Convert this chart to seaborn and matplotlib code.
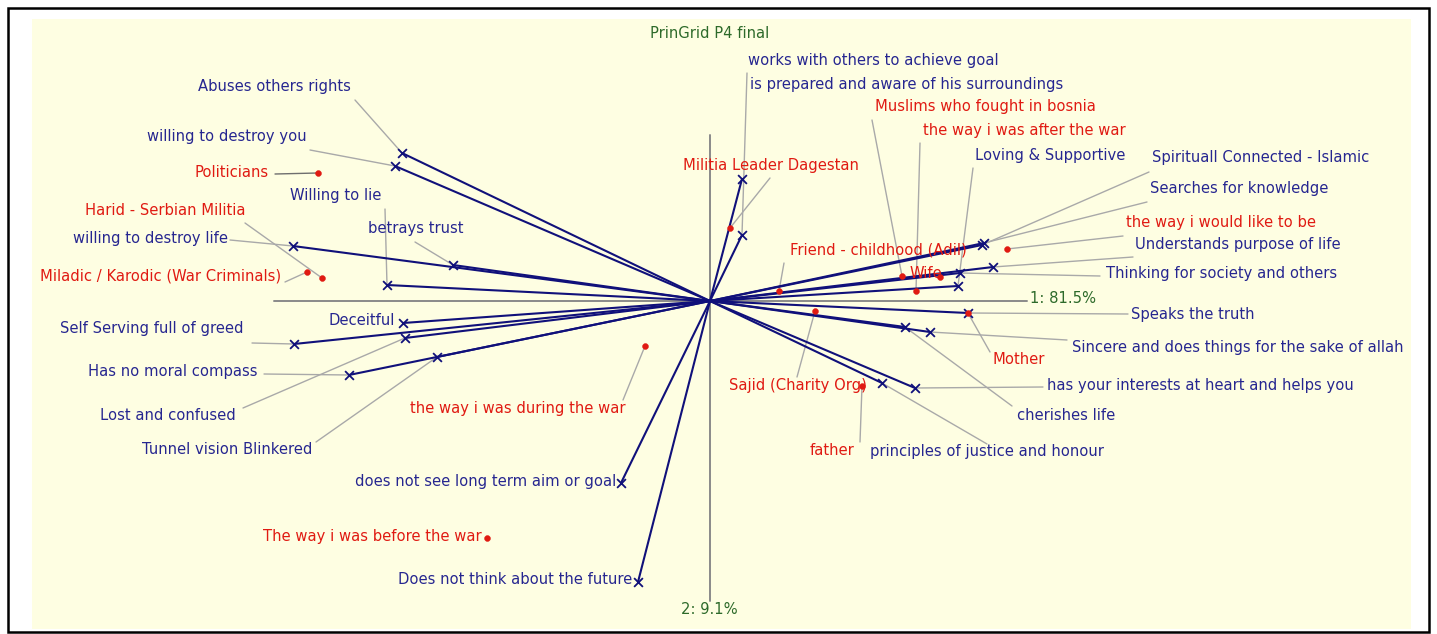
import matplotlib
matplotlib.use("Agg")
import matplotlib.pyplot as plt
import seaborn as sns
import pandas as pd
from matplotlib.patches import Rectangle

sns.set_style("white")
plt.rcParams['font.family'] = ['DejaVu Sans']

# construct poles (component 1, component 2)
constructs = ["Abuses others rights", "willing to destroy you", "willing to destroy life",
              "betrays trust", "Willing to lie", "Deceitful", "Self Serving full of greed",
              "Lost and confused", "Has no moral compass", "Tunnel vision Blinkered",
              "does not see long term aim or goal", "Does not think about the future",
              "is prepared and aware of his surroundings", "works with others to achieve goal",
              "Spirituall Connected - Islamic", "Searches for knowledge",
              "Understands purpose of life", "Thinking for society and others",
              "Loving & Supportive", "Speaks the truth",
              "Sincere and does things for the sake of allah", "cherishes life",
              "has your interests at heart and helps you", "principles of justice and honour"]
con_c1 = [-3.08, -3.15, -4.17, -2.57, -3.23, -3.07, -4.16, -3.05, -3.61, -2.73, -0.89, -0.72,
          0.32, 0.32, 2.72, 2.74, 2.83, 2.50, 2.48, 2.58, 2.20, 1.95, 2.05, 1.72]
con_c2 = [1.48, 1.35, 0.55, 0.36, 0.16, -0.22, -0.43, -0.37, -0.74, -0.56, -1.82, -2.81,
          1.22, 0.66, 0.56, 0.58, 0.34, 0.28, 0.15, -0.12, -0.31, -0.26, -0.87, -0.82]

# elements
elements = ["Politicians", "Harid - Serbian Militia", "Miladic / Karodic (War Criminals)",
            "Militia Leader Dagestan", "Friend - childhood (Adil)", "Muslims who fought in bosnia",
            "the way i was after the war", "Wife", "the way i would like to be", "Mother",
            "Sajid (Charity Org)", "father", "the way i was during the war",
            "The way i was before the war"]
elem_c1 = [-3.92, -3.88, -4.03, 0.20, 0.69, 1.92, 2.06, 2.30, 2.97, 2.58, 1.05, 1.52, -0.65, -2.23]
elem_c2 = [1.28, 0.23, 0.29, 0.73, 0.10, 0.25, 0.10, 0.24, 0.52, -0.12, -0.10, -0.85, -0.45, -2.37]

var_pct = [81.5, 9.1]
title = "PrinGrid P4 final"

# label placement (left edge, centre) and leader starts, same units as the plot
con_label_pos = [(-5.12, 2.14), (-5.63, 1.65), (-6.37, 0.63), (-3.42, 0.73), (-4.20, 1.06),
                 (-3.82, -0.19), (-6.50, -0.27), (-6.10, -1.14), (-6.22, -0.70), (-5.68, -1.48),
                 (-3.55, -1.80), (-3.12, -2.79), (0.40, 2.17), (0.38, 2.41), (4.42, 1.44),
                 (4.40, 1.13), (4.25, 0.57), (3.96, 0.28), (2.65, 1.46), (4.21, -0.13),
                 (3.62, -0.46), (3.07, -1.14), (3.37, -0.84), (1.60, -1.50)]
con_leader = [(-3.55, 2.01), (-4.00, 1.51), (-4.80, 0.61), (-2.95, 0.59), (-3.25, 0.92),
              None, (-4.58, -0.42), (-4.67, -1.07), (-4.46, -0.73), (-3.94, -1.41),
              None, None, None, (0.37, 2.28), (4.39, 1.29), (4.37, 0.99), (4.23, 0.44),
              (3.90, 0.25), (2.63, 1.33), (4.18, -0.13), (3.57, -0.39), (3.02, -1.05),
              (3.33, -0.86), (2.77, -1.43)]
elem_label_pos = [(-5.15, 1.29), (-6.25, 0.91), (-6.70, 0.25), (-0.27, 1.36), (0.80, 0.51),
                  (1.65, 1.94), (2.13, 1.71), (2.00, 0.28), (4.16, 0.79), (2.83, -0.58),
                  (0.19, -0.84), (1.00, -1.49), (-3.00, -1.07), (-4.47, -2.36)]
elem_leader = [(-4.35, 1.27), (-4.65, 0.78), (-4.25, 0.19), (0.60, 1.23), (0.74, 0.38),
               (1.62, 1.81), (2.10, 1.58), None, (4.13, 0.65), (2.80, -0.51),
               (0.87, -0.76), (1.50, -1.41), (-0.87, -0.99), None]

NAVY = "#10107a"
BLUE_TXT = "#262690"
RED = "#e01a12"
GREEN = "#2d6a2a"
GREY = "#a9a9a9"
FS = 10.6

fig = plt.figure(figsize=(14.37, 6.34), dpi=100)
W, H = 1437, 634
ax = fig.add_axes([0, 0, 1, 1])
ax.set_xlim(-7.10, 7.27)
ax.set_ylim(-3.33, 3.01)
ax.axis("off")
ax.add_patch(Rectangle((8 / W, 1 - 632 / H), 1421 / W, 624 / H, transform=fig.transFigure,
                       facecolor="white", edgecolor="black", linewidth=1.8, zorder=0, clip_on=False))
ax.add_patch(Rectangle((32 / W, 1 - 629 / H), 1379 / W, 610 / H, transform=fig.transFigure,
                       facecolor="#fefee2", edgecolor="none", zorder=0.5, clip_on=False))

# principal axes
ax.plot([-4.36, 3.17], [0, 0], color="#8a8a8a", lw=1.4, zorder=1)
ax.plot([0, 0], [-3.00, 1.66], color="#8a8a8a", lw=1.4, zorder=1)
ax.text(3.20, 0.03, f"1: {var_pct[0]}%", color=GREEN, fontsize=FS, va="center")
ax.text(-0.29, -3.09, f"2: {var_pct[1]}%", color=GREEN, fontsize=FS, va="center")
ax.text(-0.60, 2.68, title, color=GREEN, fontsize=FS, va="center")

con_df = pd.DataFrame({"name": constructs, "c1": con_c1, "c2": con_c2})
elem_df = pd.DataFrame({"name": elements, "c1": elem_c1, "c2": elem_c2})

# leader lines
for (lx, ly), lead, x, y in zip(con_label_pos, con_leader, con_c1, con_c2):
    if lead is not None:
        ax.plot([lead[0], x], [lead[1], y], color=GREY, lw=1, zorder=2)
for lead, x, y, nm in zip(elem_leader, elem_c1, elem_c2, elements):
    if lead is not None:
        col = "#6e6e6e" if nm == "Politicians" else GREY
        ax.plot([lead[0], x], [lead[1], y], color=col, lw=1, zorder=2)

# construct vectors from origin
for x, y in zip(con_c1, con_c2):
    ax.plot([0, x], [0, y], color=NAVY, lw=1.5, zorder=3)
sns.scatterplot(data=con_df, x="c1", y="c2", marker="x", s=40, color=NAVY,
                linewidth=1.3, ax=ax, zorder=4, legend=False)
sns.scatterplot(data=elem_df, x="c1", y="c2", marker="o", s=18, color=RED,
                edgecolor=RED, ax=ax, zorder=5, legend=False)

for nm, (lx, ly) in zip(constructs, con_label_pos):
    ax.text(lx, ly, nm, color=BLUE_TXT, fontsize=FS, va="center", ha="left", zorder=6)
for nm, (lx, ly) in zip(elements, elem_label_pos):
    ax.text(lx, ly, nm, color=RED, fontsize=FS, va="center", ha="left", zorder=6)

fig.savefig("out.png", dpi=100)
